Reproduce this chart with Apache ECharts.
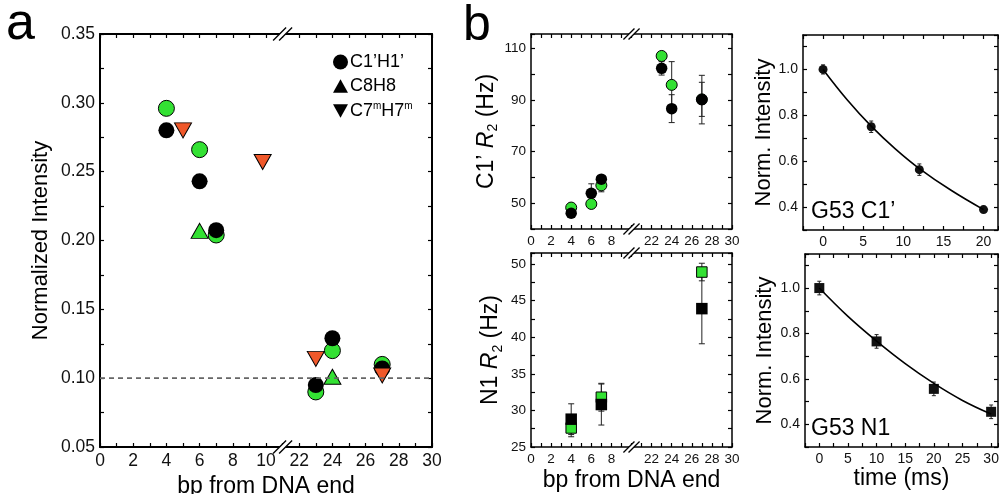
<!DOCTYPE html>
<html>
<head>
<meta charset="utf-8">
<script src="https://cdn.jsdelivr.net/npm/echarts@6/dist/echarts.min.js"></script>
<style>
html,body{margin:0;padding:0;background:#fff}
#main{width:999px;height:494px}
</style>
</head>
<body>
<div id="main"></div>
<script>
// ---- panel a : normalized intensity vs bp from DNA end
let a_bp = [4, 6, 7, 23, 24, 27];
let a_c1h1_black = [0.280, 0.243, 0.2075, 0.095, 0.129, 0.107];
let a_c1h1_green = [0.296, 0.266, 0.204, 0.090, 0.120, 0.110];
let a_c8h8_bp = [6, 24];
let a_c8h8_green = [0.207, 0.101];
let a_c7h7_bp = [5, 9.8, 23, 27];
let a_c7h7_orange = [0.280, 0.257, 0.114, 0.102];
let a_ref = 0.10;

// ---- panel b : C1' R2
let c1_bp = [4, 6, 7, 23, 24, 27];
let c1_black = [46.1, 53.8, 59.3, 102.2, 86.6, 90.1];
let c1_black_err = [1, 3.7, 1, 2.6, 5.4, 9.4];
let c1_green = [48.3, 49.7, 56.9, 107.0, 95.8, 90.2];
let c1_green_err = [1.2, 1.5, 2.5, 0, 9.0, 6.6];

// ---- panel b : N1 R2
let n1_bp = [4, 7, 27];
let n1_black = [28.8, 30.8, 43.9];
let n1_black_err = [2.1, 2.8, 4.8];
let n1_green = [27.6, 31.8, 48.9];
let n1_green_err = [1.2, 1.9, 1.2];

// ---- panel b : G53 decay curves
let g_c1_t = [0, 6, 12, 20];
let g_c1_i = [1.0, 0.75, 0.563, 0.389];
let g_c1_err = [0.02, 0.025, 0.025, 0.012];
let g_c1_fit_t = [0, 3, 6, 9, 12, 16, 20];
let g_c1_fit_i = [1.0, 0.868, 0.753, 0.654, 0.568, 0.472, 0.389];
let g_n1_t = [0, 10, 20, 30];
let g_n1_i = [1.0, 0.765, 0.556, 0.455];
let g_n1_err = [0.03, 0.03, 0.03, 0.03];
let g_n1_fit_t = [0, 5, 10, 15, 20, 25, 30];
let g_n1_fit_i = [1.0, 0.875, 0.766, 0.667, 0.580, 0.505, 0.445];

const FONT = 'Liberation Sans, Arial, Helvetica, sans-serif';
const GREEN = '#33e133';
const ORANGE = '#f0582a';

// broken bp axis: 22..30 sit right after the break
function bpAxis(v) { return v > 15 ? v - 10 : v; }
function pts(xs, ys, fx) { return xs.map(function (x, i) { return [fx ? fx(x) : x, ys[i]]; }); }
function isMult(v, s) { let r = v / s; return Math.abs(r - Math.round(r)) < 1e-6; }

function mkAxis(gridIndex, position, min, max, interval, fmt, fs, lw, extra) {
  let ax = {
    type: 'value', gridIndex: gridIndex, position: position,
    min: min, max: max, interval: interval,
    axisLine: {show: true, onZero: false, lineStyle: {color: '#000', width: lw}},
    axisTick: {show: true, inside: true, length: 4, lineStyle: {color: '#000', width: 1.2}},
    splitLine: {show: false},
    axisLabel: fmt ? {show: true, formatter: fmt, fontSize: fs, color: '#111', fontFamily: FONT, margin: 5}
                   : {show: false}
  };
  return Object.assign(ax, extra || {});
}

function nameStyle(fs) {
  return {
    fontSize: fs, color: '#000', fontFamily: FONT,
    rich: {
      n: {fontSize: 23, fontFamily: FONT, color: '#000', lineHeight: 28},
      i: {fontSize: 23, fontFamily: FONT, color: '#000', fontStyle: 'italic', lineHeight: 28},
      s: {fontSize: 14, fontFamily: FONT, color: '#000', verticalAlign: 'bottom', lineHeight: 24}
    }
  };
}

function errRender(capW) {
  return function (params, api) {
    let x = api.value(0), y = api.value(1), e = api.value(2);
    if (!e) return;
    let hi = api.coord([x, y + e]), lo = api.coord([x, y - e]);
    let st = {stroke: '#222', lineWidth: 1};
    return {type: 'group', children: [
      {type: 'line', shape: {x1: hi[0], y1: hi[1], x2: lo[0], y2: lo[1]}, style: st},
      {type: 'line', shape: {x1: hi[0] - capW / 2, y1: hi[1], x2: hi[0] + capW / 2, y2: hi[1]}, style: st},
      {type: 'line', shape: {x1: lo[0] - capW / 2, y1: lo[1], x2: lo[0] + capW / 2, y2: lo[1]}, style: st}
    ]};
  };
}
function errSeries(k, xs, ys, es, capW, fx) {
  return {
    type: 'custom', xAxisIndex: k * 2, yAxisIndex: k * 2, silent: true,
    renderItem: errRender(capW), encode: {x: 0, y: 1},
    data: xs.map(function (x, i) { return [fx ? fx(x) : x, ys[i], es[i]]; })
  };
}
function dots(name, k, data, symbol, size, color, border, extra) {
  return Object.assign({
    name: name, type: 'scatter', xAxisIndex: k * 2, yAxisIndex: k * 2, silent: true,
    symbol: symbol, symbolSize: size, data: data,
    itemStyle: {color: color, opacity: 1, borderColor: '#000', borderWidth: border}
  }, extra || {});
}

// tick label formatters
let fmtA_x = function (v) { return isMult(v, 2) ? String(v <= 10 ? v : v + 10) : ''; };
let fmtA_y = function (v) { return isMult(v, 0.05) ? v.toFixed(2) : ''; };
let fmtB_x = function (v) { return (isMult(v, 2) && Math.abs(v - 10) > 1e-6) ? String(v < 10 ? v : v + 10) : ''; };
let fmtC1_y = function (v) { return (v >= 50 && isMult(v - 50, 20)) ? String(Math.round(v)) : ''; };
let fmtN1_y = function (v) { return isMult(v, 5) ? String(Math.round(v)) : ''; };
let fmtT_x = function (v) { return (v >= 0 && isMult(v, 5)) ? String(Math.round(v)) : ''; };
let fmtI_y = function (v) { return (isMult(v, 0.2) && v > 0.35 && v < 1.1) ? v.toFixed(1) : ''; };

let grids = [
  {left: 100, top: 34, width: 332, height: 413},
  {left: 531, top: 34, width: 201, height: 195},
  {left: 531, top: 253, width: 201, height: 194},
  {left: 803, top: 35, width: 195, height: 195},
  {left: 805, top: 254, width: 193, height: 193}
];
grids.forEach(function (g) { g.outerBoundsMode = 'none'; g.containLabel = false; });

let xAxes = [
  mkAxis(0, 'bottom', 0, 20, 1, fmtA_x, 17.5, 2, {
    name: 'bp from DNA end', nameLocation: 'middle', nameGap: 24, nameTextStyle: nameStyle(23)}),
  mkAxis(0, 'top', 0, 20, 1, null, 0, 2),
  mkAxis(1, 'bottom', 0, 20, 1, fmtB_x, 13.5, 1.5),
  mkAxis(1, 'top', 0, 20, 1, null, 0, 1.5),
  mkAxis(2, 'bottom', 0, 20, 1, fmtB_x, 13.5, 1.5, {
    name: 'bp from DNA end', nameLocation: 'middle', nameGap: 22, nameTextStyle: nameStyle(23)}),
  mkAxis(2, 'top', 0, 20, 1, null, 0, 1.5),
  mkAxis(3, 'bottom', -2.5, 21.8, 2.5, fmtT_x, 14, 1.5),
  mkAxis(3, 'top', -2.5, 21.8, 2.5, null, 0, 1.5),
  mkAxis(4, 'bottom', -2.5, 31.2, 2.5, fmtT_x, 14, 1.5, {
    name: 'time (ms)', nameLocation: 'middle', nameGap: 20, nameTextStyle: nameStyle(23)}),
  mkAxis(4, 'top', -2.5, 31.2, 2.5, null, 0, 1.5)
];
let yAxes = [
  mkAxis(0, 'left', 0.05, 0.35, 0.025, fmtA_y, 17.5, 2, {
    name: 'Normalized Intensity', nameLocation: 'middle', nameGap: 48, nameTextStyle: nameStyle(22)}),
  mkAxis(0, 'right', 0.05, 0.35, 0.025, null, 0, 2),
  mkAxis(1, 'left', 40, 115.5, 10, fmtC1_y, 13.5, 1.5, {
    name: '{n|C1’ }{i|R}{s|2}{n| (Hz)}', nameLocation: 'middle', nameGap: 26, nameTextStyle: nameStyle(23)}),
  mkAxis(1, 'right', 40, 115.5, 10, null, 0, 1.5),
  mkAxis(2, 'left', 25, 51.5, 2.5, fmtN1_y, 13.5, 1.5, {
    name: '{n|N1 }{i|R}{s|2}{n| (Hz)}', nameLocation: 'middle', nameGap: 26, nameTextStyle: nameStyle(23)}),
  mkAxis(2, 'right', 25, 51.5, 2.5, null, 0, 1.5),
  mkAxis(3, 'left', 0.3, 1.15, 0.1, fmtI_y, 14, 1.5, {
    name: 'Norm. Intensity', nameLocation: 'middle', nameGap: 27, nameTextStyle: nameStyle(22)}),
  mkAxis(3, 'right', 0.3, 1.15, 0.1, null, 0, 1.5),
  mkAxis(4, 'left', 0.3, 1.15, 0.1, fmtI_y, 14, 1.5, {
    name: 'Norm. Intensity', nameLocation: 'middle', nameGap: 29, nameTextStyle: nameStyle(22)}),
  mkAxis(4, 'right', 0.3, 1.15, 0.1, null, 0, 1.5)
];

let series = [
  // panel a
  {type: 'line', xAxisIndex: 0, yAxisIndex: 0, silent: true, symbol: 'none',
   data: [[0, a_ref], [20, a_ref]], lineStyle: {color: '#666', width: 1.6, type: [5, 4]}},
  dots('C1’H1’ green', 0, pts(a_bp, a_c1h1_green, bpAxis), 'circle', 16, GREEN, 1),
  dots('C1’H1’', 0, pts(a_bp, a_c1h1_black, bpAxis), 'circle', 16, '#000', 0),
  dots('C8H8', 0, pts(a_c8h8_bp, a_c8h8_green, bpAxis), 'triangle', [17, 15], GREEN, 1),
  dots('C7mH7m', 0, pts(a_c7h7_bp, a_c7h7_orange, bpAxis), 'triangle', [17, 15], ORANGE, 1, {symbolRotate: 180}),
  // C1' R2
  errSeries(1, c1_bp, c1_green, c1_green_err, 6, bpAxis),
  dots('c1 green', 1, pts(c1_bp, c1_green, bpAxis), 'circle', 11, GREEN, 1),
  errSeries(1, c1_bp, c1_black, c1_black_err, 6, bpAxis),
  dots('c1 black', 1, pts(c1_bp, c1_black, bpAxis), 'circle', 11.5, '#000', 0),
  // N1 R2
  errSeries(2, n1_bp, n1_green, n1_green_err, 6, bpAxis),
  dots('n1 green', 2, pts(n1_bp, n1_green, bpAxis), 'rect', 10.5, GREEN, 1),
  errSeries(2, n1_bp, n1_black, n1_black_err, 6, bpAxis),
  dots('n1 black', 2, pts(n1_bp, n1_black, bpAxis), 'rect', 11.5, '#000', 0),
  // G53 C1'
  {type: 'line', xAxisIndex: 6, yAxisIndex: 6, silent: true, symbol: 'none', smooth: 0.4,
   data: pts(g_c1_fit_t, g_c1_fit_i), lineStyle: {color: '#000', width: 1.6}},
  errSeries(3, g_c1_t, g_c1_i, g_c1_err, 4),
  dots('g53 c1', 3, pts(g_c1_t, g_c1_i), 'circle', 9, '#111', 0),
  // G53 N1
  {type: 'line', xAxisIndex: 8, yAxisIndex: 8, silent: true, symbol: 'none', smooth: 0.4,
   data: pts(g_n1_fit_t, g_n1_fit_i), lineStyle: {color: '#000', width: 1.6}},
  errSeries(4, g_n1_t, g_n1_i, g_n1_err, 4),
  dots('g53 n1', 4, pts(g_n1_t, g_n1_i), 'rect', 10, '#111', 0)
];

let option = {
  animation: false,
  backgroundColor: '#fff',
  grid: grids,
  xAxis: xAxes,
  yAxis: yAxes,
  legend: {
    orient: 'vertical', left: 333, top: 53, padding: 0,
    itemWidth: 15, itemHeight: 15, itemGap: 6, selectedMode: false,
    data: [
      {name: 'C1’H1’', icon: 'circle', itemStyle: {color: '#000', borderWidth: 0}},
      {name: 'C8H8', icon: 'path://M5,0L10,9L0,9Z', itemStyle: {color: '#000', borderWidth: 0}},
      {name: 'C7mH7m', icon: 'path://M0,0L10,0L5,9Z', itemStyle: {color: '#000', borderWidth: 0}}
    ],
    formatter: function (name) {
      if (name === 'C7mH7m') return '{n|C7}{s|m}{n|H7}{s|m}';
      return '{n|' + name + '}';
    },
    textStyle: {
      fontFamily: FONT, fontSize: 18, color: '#000', padding: [0, 0, 0, -3],
      rich: {
        n: {fontFamily: FONT, fontSize: 18, color: '#000', lineHeight: 20},
        s: {fontFamily: FONT, fontSize: 10, color: '#000', verticalAlign: 'top', lineHeight: 20}
      }
    }
  },
  series: series
};

let chart = echarts.init(document.getElementById('main'));
chart.setOption(option);

// axis-break marks and panel letters
function breakMark(xi, yi, xv, yv, s) {
  let p = chart.convertToPixel({xAxisIndex: xi, yAxisIndex: yi}, [xv, yv]);
  let d = 3 * s, w = 6.5 * s, h = 6.5 * s;
  let cx = p[0], cy = p[1];
  let st = {stroke: '#000', lineWidth: 1.3};
  return [
    {type: 'polygon', z: 100, shape: {points: [[cx - d - w, cy + h], [cx - d + w, cy - h], [cx + d + w, cy - h], [cx + d - w, cy + h]]},
     style: {fill: '#fff'}},
    {type: 'line', z: 101, shape: {x1: cx - d - w, y1: cy + h, x2: cx - d + w, y2: cy - h}, style: st},
    {type: 'line', z: 101, shape: {x1: cx + d - w, y1: cy + h, x2: cx + d + w, y2: cy - h}, style: st}
  ];
}
function txt(text, x, y, fs) {
  return {type: 'text', z: 100, style: {text: text, x: x, y: y, fontSize: fs, fontFamily: FONT,
    fill: '#000', textVerticalAlign: 'middle', verticalAlign: 'middle'}};
}
let graphic = []
  .concat(breakMark(0, 0, 11, 0.35, 1), breakMark(0, 0, 11, 0.05, 1))
  .concat(breakMark(2, 2, 10, 115.5, 0.85), breakMark(2, 2, 10, 40, 0.85))
  .concat(breakMark(4, 4, 10, 51.5, 0.85), breakMark(4, 4, 10, 25, 0.85))
  .concat([
    txt('a', 6, 25, 52),
    txt('b', 463, 26, 50),
    txt('G53 C1’', 811, 212, 23),
    txt('G53 N1', 811, 429, 23)
  ]);
chart.setOption({graphic: graphic});
</script>
</body>
</html>
